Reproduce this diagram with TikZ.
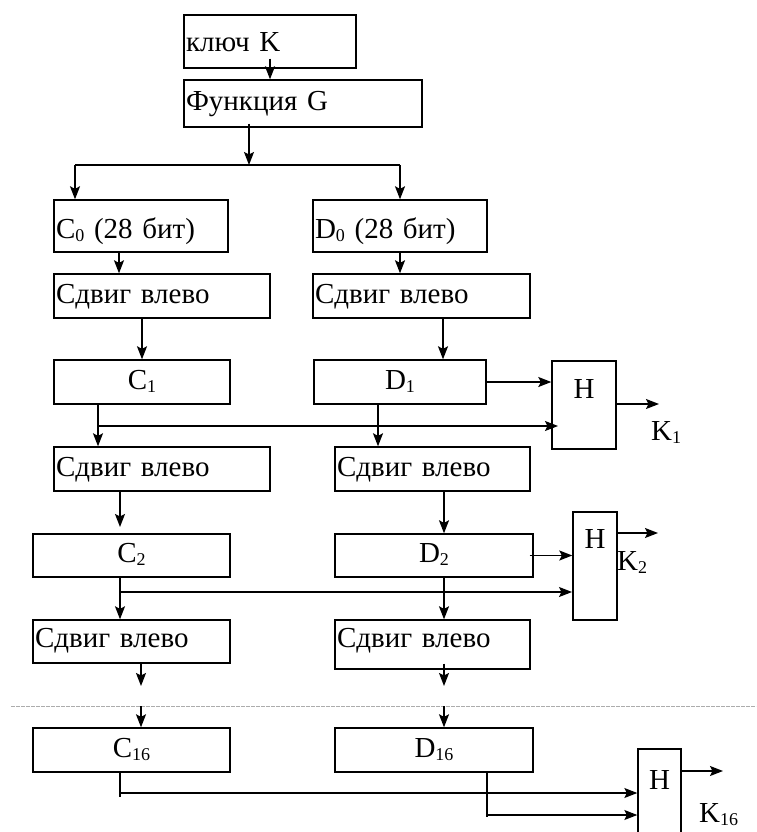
\documentclass[tikz,border=0pt]{standalone}
\usepackage{fontspec}
\setmainfont{Liberation Serif}
\usetikzlibrary{arrows.meta,calc}
% lowered small index, e.g. C_1
\newcommand{\idx}[1]{\raisebox{-3pt}{\fontsize{18}{18}\selectfont #1}}

\begin{document}
\begin{tikzpicture}[x=1pt,y=-1pt,
  font=\fontsize{29}{34}\selectfont,
  blk/.style={draw, line width=1.4pt, inner xsep=2pt, inner ysep=0pt,
    text height=20pt, text depth=6pt},
  lblk/.style 2 args={blk, text width=#1, minimum height=#2, align=left},
  cblk/.style 2 args={blk, minimum width=#1, minimum height=#2},
  hblk/.style 2 args={draw, line width=1.4pt, inner sep=0pt,
    minimum width=#1, minimum height=#2},
  lbl/.style={inner sep=0pt, anchor=base west},
  arr/.style={line width=1.4pt, -{Stealth[length=13pt,width=10pt,inset=2.5pt]}},
  tap/.style={line width=1.1pt, -{Stealth[length=13pt,width=10pt,inset=2.5pt]}},
  wire/.style={line width=1.2pt},
  dashline/.style={gray!65, line width=0.8pt, dash pattern=on 4pt off 1pt}]

\clip (0,0) rectangle (756,832);
\fill[white] (0,0) rectangle (756,832);

% key schedule blocks
\node[lblk={168pt}{53pt}, text height=27pt] (key) at (270,41.5) {ключ K};
\node[lblk={234pt}{47pt}] (fung) at (303,103.5) {Функция G};
\node[lblk={170pt}{52pt}, text height=30pt] (c0) at (141,226) {C\idx{0} (28 бит)};
\node[lblk={170pt}{52pt}, text height=30pt] (d0) at (400,226) {D\idx{0} (28 бит)};
\node[lblk={212pt}{44pt}] (sl1) at (162,296) {Сдвиг влево};
\node[lblk={213pt}{44pt}] (sr1) at (421.5,296) {Сдвиг влево};
\node[cblk={176pt}{44pt}] (c1) at (142,382) {C\idx{1}};
\node[cblk={172pt}{44pt}] (d1) at (400,382) {D\idx{1}};
\node[hblk={64pt}{88pt}, text height=3pt, text depth=17pt] (h1) at (584,405) {H};
\node[lblk={212pt}{44pt}] (sl2) at (162,469) {Сдвиг влево};
\node[lblk={191pt}{44pt}] (sr2) at (432.5,469) {Сдвиг влево};
\node[cblk={197pt}{43pt}] (c2) at (131.5,555.5) {C\idx{2}};
\node[cblk={198pt}{43pt}] (d2) at (434,555.5) {D\idx{2}};
\node[hblk={44pt}{108pt}, text height=0pt, text depth=36pt] (h2) at (595,566) {H};
\node[lblk={193pt}{43pt}, text height=17pt] (sl3) at (131.5,641.5) {Сдвиг влево};
\node[lblk={191pt}{49pt}, text height=11pt] (sr3) at (432.5,644.5) {Сдвиг влево};
\node[cblk={197pt}{44pt}] (c16) at (131.5,750) {C\idx{16}};
\node[cblk={198pt}{44pt}] (d16) at (434,750) {D\idx{16}};
\node[hblk={43pt}{101pt}, text height=0pt, text depth=20pt] (h16) at (659.5,799.5) {H};

% output labels
\node[lbl] (k1) at (651,440) {K\idx{1}};
\node[lbl] (k2) at (617,570) {K\idx{2}};
\node[lbl] (k16) at (699,822) {K\idx{16}};

% helper points
\coordinate (split) at (249,165);
\coordinate (splitL) at (75,165);
\coordinate (splitR) at (400,165);
\coordinate (xa) at (119,0);
\coordinate (xb) at (443,0);
\coordinate (xc) at (98,0);
\coordinate (xd) at (378,0);
\coordinate (xe) at (120,0);
\coordinate (xf) at (444,0);
\coordinate (xg) at (487,0);
\coordinate (t1) at (558,426);
\coordinate (t2) at (572,592);
\coordinate (t3) at (0,793);
\coordinate (t4) at (0,815);
\coordinate (out1) at (659,404);
\coordinate (out2) at (658,533);
\coordinate (out16) at (723,771);
\coordinate (e1) at (120,527);
\coordinate (e2) at (141,686);
\coordinate (e3) at (444,686);
\coordinate (dl) at (11,706);
\coordinate (dr) at (756,706);
\coordinate (s16) at (120,797);
\coordinate (s17) at (487,817);

% top part
\draw[arr] ([yshift=10pt]key.south) -- (key.south |- fung.north);
\draw[arr] ($(split |- fung.south)+(0,-4)$) -- (split);
\draw[wire] (splitL) -- (splitR);
\draw[arr] (splitL) -- (splitL |- c0.north);
\draw[arr] (splitR) -- (splitR |- d0.north);

% round 1
\draw[arr] (xa |- c0.south) -- (xa |- sl1.north);
\draw[arr] (d0.south) -- (d0.south |- sr1.north);
\draw[arr] (c1.north |- sl1.south) -- (c1.north);
\draw[arr] (xb |- sr1.south) -- (xb |- d1.north);
\draw[arr] (d1.east) -- (d1.east -| h1.west);
\draw[arr] (h1.east |- out1) -- (out1);
\draw[arr] (xc |- c1.south) -- (xc |- sl2.north);
\draw[tap] (xc |- t1) -- (t1);
\draw[arr] (xd |- d1.south) -- (xd |- sr2.north);

% round 2
\draw[arr] (xe |- sl2.south) -- (e1);
\draw[arr] (xf |- sr2.south) -- (xf |- d2.north);
\draw[arr] ([xshift=-4pt]d2.east) -- (d2.east -| h2.west);
\draw[arr] (h2.east |- out2) -- (out2);
\draw[arr] (xe |- c2.south) -- (xe |- sl3.north);
\draw[tap] (xe |- t2) -- (t2);
\draw[arr] (xf |- d2.south) -- (xf |- sr3.north);

% towards round 16
\draw[arr] (e2 |- sl3.south) -- (e2);
\draw[arr] ($(e3 |- sr3.south)+(0,-6)$) -- (e3);
\draw[dashline] (dl) -- (dr);
\draw[arr] (e2 |- dl) -- (e2 |- c16.north);
\draw[arr] (e3 |- dl) -- (e3 |- d16.north);

% round 16
\draw[wire] (xe |- c16.south) -- (s16);
\draw[tap] (xe |- t3) -- (h16.west |- t3);
\draw[wire] (xg |- d16.south) -- (s17);
\draw[tap] (xg |- t4) -- (h16.west |- t4);
\draw[arr] (h16.east |- out16) -- (out16);
\end{tikzpicture}
\end{document}
